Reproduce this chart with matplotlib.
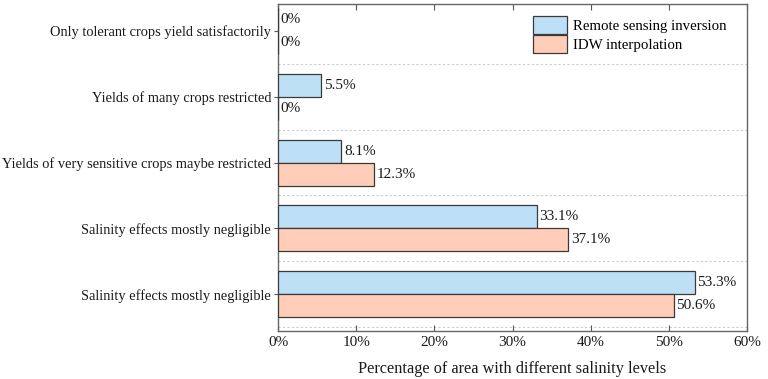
import numpy as np
import matplotlib
matplotlib.use('Agg')
import matplotlib.pyplot as plt
from matplotlib.ticker import FuncFormatter

plt.rcParams['font.family'] = ['Liberation Serif', 'DejaVu Serif']

# categories listed top to bottom as in the figure
categories = ['Only tolerant crops yield satisfactorily',
              'Yields of many crops restricted',
              'Yields of very sensitive crops maybe restricted',
              'Salinity effects mostly negligible',
              'Salinity effects mostly negligible']
remote = [0, 5.5, 8.1, 33.1, 53.3]
idw = [0, 0, 12.3, 37.1, 50.6]
series_names = ['Remote sensing inversion', 'IDW interpolation']
xticks = [0, 10, 20, 30, 40, 50, 60]

n = len(categories)
y = np.arange(n)[::-1]  # top category at highest y
h = 0.35

fig, ax = plt.subplots(figsize=(7.68, 3.79), dpi=100)
fig.subplots_adjust(left=0.362, right=0.9727, top=0.9894, bottom=0.1266)

b1 = ax.barh(y + h / 2, remote, height=h, color='#bde0f7', edgecolor='#3a3a3a',
             linewidth=0.9, label=series_names[0], zorder=3)
b2 = ax.barh(y - h / 2, idw, height=h, color='#ffcdb8', edgecolor='#3a3a3a',
             linewidth=0.9, label=series_names[1], zorder=3)

for bars, vals in ((b1, remote), (b2, idw)):
    for bar, v in zip(bars, vals):
        ax.text(v + 0.35, bar.get_y() + bar.get_height() / 2, f'{v:g}%',
                va='center', ha='left', fontsize=11, color='#1a1a1a')

# dotted separators between category groups
for g in np.arange(-0.5, n - 0.5, 1.0):
    ax.axhline(g, color='#cccccc', linestyle=(0, (2, 2)), linewidth=0.8, zorder=1)

ax.set_xlim(0, 60)
ax.set_ylim(-0.56, n - 1 + 0.41)
ax.set_xticks(xticks)
ax.xaxis.set_major_formatter(FuncFormatter(lambda v, p: f'{v:.0f}%'))
ax.set_yticks(y)
ax.set_yticklabels(categories)
ax.tick_params(axis='x', direction='in', top=True, length=4, labelsize=11,
               color='#555555', labelcolor='#1a1a1a')
ax.tick_params(axis='y', direction='out', length=3, pad=2, labelsize=10.4,
               color='#555555', labelcolor='#1a1a1a')
ax.set_xlabel('Percentage of area with different salinity levels', fontsize=11.7,
              color='#1a1a1a', labelpad=9)
for s in ax.spines.values():
    s.set_color('#666666')
    s.set_linewidth(1.0)

ax.legend(loc='upper right', bbox_to_anchor=(0.982, 1.0), frameon=False,
          fontsize=10.7, handlelength=2.3, handleheight=1.5, handletextpad=0.4,
          labelspacing=0.08, borderpad=0.3)

fig.savefig('out.png', dpi=100)
